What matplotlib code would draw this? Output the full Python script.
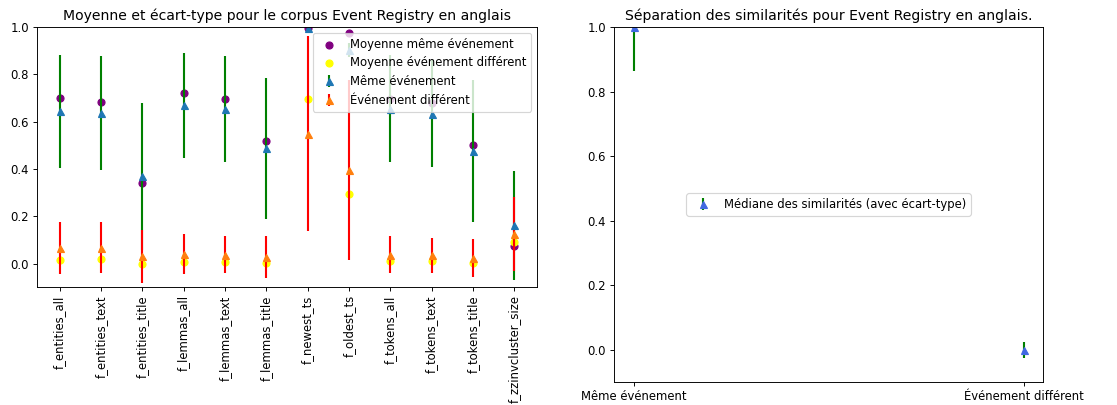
import matplotlib
matplotlib.use('Agg')
import matplotlib.pyplot as plt
import numpy as np

features = ['f_entities_all', 'f_entities_text', 'f_entities_title', 'f_lemmas_all',
            'f_lemmas_text', 'f_lemmas_title', 'f_newest_ts', 'f_oldest_ts',
            'f_tokens_all', 'f_tokens_text', 'f_tokens_title', 'f_zzinvcluster_size']

# moyennes (scatter)
moy_meme = [0.699, 0.685, 0.342, 0.722, 0.698, 0.517, 0.998, 0.976, 0.698, 0.677, 0.500, 0.073]
moy_diff = [0.016, 0.018, 0.000, 0.006, 0.007, 0.001, 0.694, 0.292, 0.010, 0.010, 0.001, 0.090]

# valeurs centrales + ecart-type (errorbar)
meme = [0.644, 0.636, 0.370, 0.670, 0.653, 0.487, 0.995, 0.903, 0.655, 0.634, 0.475, 0.161]
meme_std = [0.240, 0.241, 0.311, 0.222, 0.225, 0.299, 0.005, 0.030, 0.226, 0.226, 0.300, 0.229]
diff = [0.066, 0.066, 0.030, 0.040, 0.038, 0.027, 0.549, 0.394, 0.037, 0.035, 0.023, 0.126]
diff_std = [0.110, 0.108, 0.112, 0.083, 0.078, 0.088, 0.413, 0.381, 0.078, 0.074, 0.081, 0.157]

groupes = ['Même événement', 'Événement différent']
medianes = [1.0, 0.0]
medianes_std = [0.135, 0.025]

DPI = 84
plt.rcParams['lines.linewidth'] = 1.8
fig = plt.figure(figsize=(1117 / DPI, 405 / DPI), dpi=DPI)
ax1 = fig.add_axes([0.0331, 0.291, 0.4476, 0.642])
ax2 = fig.add_axes([0.5497, 0.0568, 0.3841, 0.8765])

x = np.arange(len(features))
ax1.scatter(x, moy_meme, color='purple', label='Moyenne même événement')
ax1.scatter(x, moy_diff, color='yellow', label='Moyenne événement différent')
ax1.errorbar(x, meme, yerr=meme_std, fmt='^', ecolor='green', label='Même événement')
ax1.errorbar(x, diff, yerr=diff_std, fmt='^', ecolor='red', label='Événement différent')
ax1.set_xticks(x)
ax1.set_xticklabels(features, rotation=90)
ax1.set_ylim(-0.1, 1.0)
ax1.set_title('Moyenne et écart-type pour le corpus Event Registry en anglais')
ax1.legend(loc='upper right')

ax2.errorbar(groupes, medianes, yerr=medianes_std, fmt='^', color='royalblue',
             ecolor='green', label='Médiane des similarités (avec écart-type)')
ax2.set_ylim(-0.1, 1.0)
ax2.set_title('Séparation des similarités pour Event Registry en anglais.')
ax2.legend(loc='center')

plt.savefig('out.png', dpi=DPI)
